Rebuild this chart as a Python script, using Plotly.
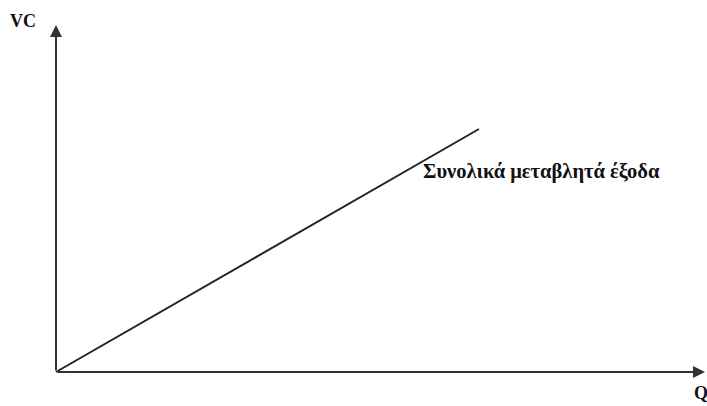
import plotly.graph_objects as go

# Data (arbitrary units): total variable cost rises linearly with output
quantity = [0, 10]
variable_cost = [0, 10]
curve_label = "Συνολικά μεταβλητά έξοδα"
x_axis_label = "Q"
y_axis_label = "VC"

W, H = 707, 406
ox, oy = 56, 372          # pixel position of the origin
sx, sy = 42.3, 24.3       # pixels per unit

x_range = [-ox / sx, (W - ox) / sx]
y_range = [-(H - oy) / sy, oy / sy]

fig = go.Figure()
fig.add_trace(go.Scatter(
    x=quantity, y=variable_cost, mode="lines",
    line=dict(color="#222222", width=2), hoverinfo="skip", showlegend=False,
))

font = dict(family="Liberation Serif, Times New Roman, serif", color="#111111")

# axes with arrowheads
x_tip = (705 - ox) / sx
y_tip = (oy - 25) / sy
fig.add_annotation(x=x_tip, y=0, ax=0, ay=0, xref="x", yref="y", axref="x", ayref="y",
                   showarrow=True, arrowhead=2, arrowsize=1.2, arrowwidth=2,
                   arrowcolor="#333333", text="")
fig.add_annotation(x=0, y=y_tip, ax=0, ay=0, xref="x", yref="y", axref="x", ayref="y",
                   showarrow=True, arrowhead=2, arrowsize=1.2, arrowwidth=2,
                   arrowcolor="#333333", text="")

fig.add_annotation(x=23 / W, y=1 - 21 / H, xref="paper", yref="paper",
                   text="<b>" + y_axis_label + "</b>", showarrow=False,
                   font=dict(size=18, **font), xanchor="center", yanchor="middle")
fig.add_annotation(x=701 / W, y=1 - 393 / H, xref="paper", yref="paper",
                   text="<b>" + x_axis_label + "</b>", showarrow=False,
                   font=dict(size=18, **font), xanchor="center", yanchor="middle")
fig.add_annotation(x=(421 - ox) / sx, y=(oy - 171) / sy, xref="x", yref="y",
                   text="<b>" + curve_label + "</b>", showarrow=False,
                   font=dict(size=20.5, **font), xanchor="left", yanchor="middle")

fig.update_layout(
    width=W, height=H, margin=dict(l=0, r=0, t=0, b=0),
    paper_bgcolor="white", plot_bgcolor="white",
    xaxis=dict(range=x_range, visible=False, fixedrange=True),
    yaxis=dict(range=y_range, visible=False, fixedrange=True),
)

fig.write_html("out.html", config={"displayModeBar": False},
               post_script="document.body.style.margin='0';document.body.style.overflow='hidden';")
